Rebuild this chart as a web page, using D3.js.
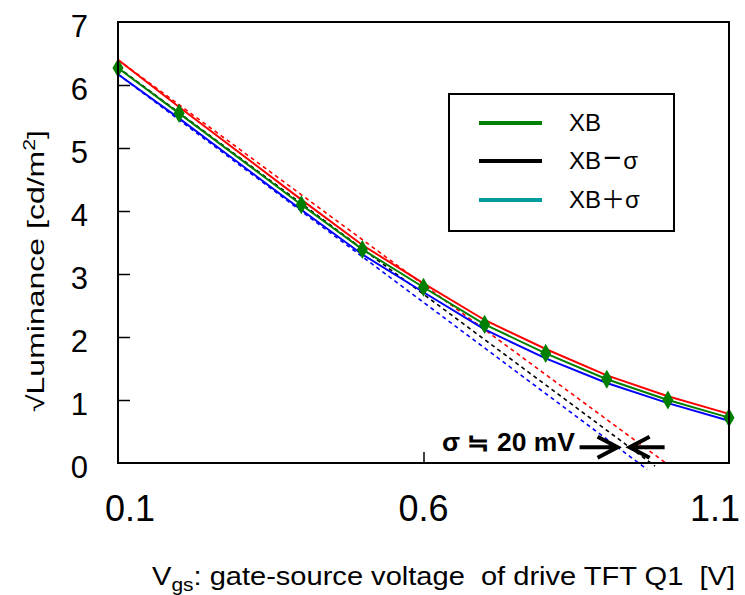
<!DOCTYPE html>
<html>
<head>
<meta charset="utf-8">
<script src="https://cdn.jsdelivr.net/npm/d3@7"></script>
<style>
  html, body { margin: 0; padding: 0; background: #fff; }
  svg { display: block; font-family: "Liberation Sans", Arial, sans-serif; }
  text { white-space: pre; }
</style>
</head>
<body>
<svg id="chart" width="745" height="595"></svg>
<script>
// Gate-source voltage sample points [V]
const vgs = [0.1, 0.2, 0.4, 0.5, 0.6, 0.7, 0.8, 0.9, 1.0, 1.1];
// sqrt(luminance) [sqrt(cd/m2)] for the mean characteristic and its ±σ neighbours
const lumXB   = [6.27, 5.55, 4.10, 3.39, 2.79, 2.20, 1.74, 1.33, 1.00, 0.72];
const lumHigh = [6.40, 5.65, 4.18, 3.46, 2.85, 2.27, 1.81, 1.39, 1.06, 0.78];
const lumLow  = [6.17, 5.47, 4.02, 3.31, 2.71, 2.12, 1.66, 1.27, 0.95, 0.67];

// Straight-line extrapolations of the steep part (start / end points)
const tanHighV = [0.1, 0.998], tanHighL = [6.40, -0.01];
const tanMidV  = [0.1, 0.979], tanMidL  = [6.28, -0.05];
const tanLowV  = [0.1, 0.966], tanLowL  = [6.17, -0.10];

// Axis ticks
const xTicks = [0.1, 0.6, 1.1];
const yTicks = [0, 1, 2, 3, 4, 5, 6, 7];

// Legend entries: base name, operator, suffix
const legendBase = ["XB", "XB", "XB"];
const legendOp = ["", "−", "＋"];
const legendSuffix = ["", "σ", "σ"];
const legendColors = ["#008000", "#000000", "#009c9c"];

// Spread annotation
const sigmaLabel = "σ ≒ 20 mV";
const arrowLevel = 0.25;

const svg = d3.select("#chart");
const x = d3.scaleLinear().domain([0.1, 1.1]).range([118, 729]);
const y = d3.scaleLinear().domain([0, 7]).range([463, 22]);

// Inward tick marks
const yAxis = d3.axisRight(y).tickValues(yTicks.slice(1, 7)).tickSize(12).tickFormat("");
svg.append("g").attr("transform", `translate(${x(0.1)},0)`).call(yAxis)
  .call(g => g.select(".domain").remove())
  .call(g => g.selectAll("line").attr("stroke", "#000").attr("stroke-width", 1.5));
const xAxis = d3.axisTop(x).tickValues([0.6]).tickSize(11).tickFormat("");
svg.append("g").attr("transform", `translate(0,${y(0)})`).call(xAxis)
  .call(g => g.select(".domain").remove())
  .call(g => g.selectAll("line").attr("stroke", "#000").attr("stroke-width", 1.5));

// Tick labels
svg.append("g").selectAll("text").data(yTicks).join("text")
  .attr("x", 88).attr("y", d => y(d) + 15)
  .attr("text-anchor", "end").attr("font-size", 31).attr("fill", "#000")
  .text(d => d);
svg.append("g").selectAll("text").data(xTicks).join("text")
  .attr("x", (d, i) => x(d) + (i === 0 ? -13 : i === xTicks.length - 1 ? 11 : 0))
  .attr("y", 521)
  .attr("text-anchor", (d, i) => i === 0 ? "start" : i === xTicks.length - 1 ? "end" : "middle")
  .attr("font-size", 36).attr("fill", "#000")
  .text(d => d3.format(".1f")(d));

// Extrapolated straight lines
const line = d3.line().x(d => x(d[0])).y(d => y(d[1]));
const tangents = [
  { v: tanHighV, l: tanHighL, c: "#ff0000" },
  { v: tanMidV,  l: tanMidL,  c: "#000000" },
  { v: tanLowV,  l: tanLowL,  c: "#0000ff" }
];
svg.append("g").selectAll("path").data(tangents).join("path")
  .attr("d", d => line(d.v.map((v, i) => [v, d.l[i]])))
  .attr("fill", "none").attr("stroke", d => d.c)
  .attr("stroke-width", 1.6).attr("stroke-dasharray", "4,3.5");

// Measured characteristics
const curves = [
  { l: lumHigh, c: "#ff0000" },
  { l: lumLow,  c: "#0000ff" },
  { l: lumXB,   c: "#008000" }
];
svg.append("g").selectAll("path").data(curves).join("path")
  .attr("d", d => line(vgs.map((v, i) => [v, d.l[i]])))
  .attr("fill", "none").attr("stroke", d => d.c).attr("stroke-width", 2);

// Markers on the mean curve
svg.append("g").selectAll("path").data(vgs.map((v, i) => [v, lumXB[i]])).join("path")
  .attr("transform", d => `translate(${x(d[0])},${y(d[1])})`)
  .attr("d", d3.symbol(d3.symbolDiamond, 105))
  .attr("fill", "#008000");

// Plot frame
svg.append("rect")
  .attr("x", x(0.1)).attr("y", y(7))
  .attr("width", x(1.1) - x(0.1)).attr("height", y(0) - y(7))
  .attr("fill", "none").attr("stroke", "#000").attr("stroke-width", 2);

// Spread annotation with facing arrows
const vAt = (vs, ls, lv) => vs[0] + (ls[0] - lv) * (vs[1] - vs[0]) / (ls[0] - ls[1]);
const tipL = x(vAt(tanLowV, tanLowL, arrowLevel));
const tipR = x(vAt(tanMidV, tanMidL, arrowLevel));
const ay = y(arrowLevel);
const ann = svg.append("g").attr("stroke", "#000").attr("stroke-width", 4)
  .attr("fill", "none").attr("stroke-linecap", "butt");
ann.append("path").attr("d", `M${tipL - 38},${ay}H${tipL}M${tipL - 20},${ay - 10.5}L${tipL},${ay}L${tipL - 20},${ay + 10.5}`);
ann.append("path").attr("d", `M${tipR + 35},${ay}H${tipR}M${tipR + 20},${ay - 10.5}L${tipR},${ay}L${tipR + 20},${ay + 10.5}`);
svg.append("text").attr("x", 442).attr("y", 451)
  .attr("font-size", 25).attr("font-weight", "bold").attr("fill", "#000")
  .attr("textLength", 133).attr("lengthAdjust", "spacingAndGlyphs")
  .text(sigmaLabel);

// Legend
const lg = svg.append("g");
lg.append("rect").attr("x", 449).attr("y", 94).attr("width", 225).attr("height", 137)
  .attr("fill", "#fff").attr("stroke", "#000").attr("stroke-width", 2);
const rowY = [123, 161, 200];
lg.selectAll("line").data(legendBase).join("line")
  .attr("x1", 479).attr("x2", 542)
  .attr("y1", (d, i) => rowY[i]).attr("y2", (d, i) => rowY[i])
  .attr("stroke", (d, i) => legendColors[i]).attr("stroke-width", 4);
const lt = lg.selectAll("text").data(legendBase).join("text")
  .attr("x", 569).attr("y", (d, i) => rowY[i] + 8)
  .attr("font-size", 24).attr("fill", "#000");
lt.append("tspan").text(d => d);
// Wide operator glyphs: a stretched minus sign, a full-width plus sign
lt.append("tspan")
  .attr("font-family", (d, i) => i === 2 ? "'Noto Sans CJK JP'" : null)
  .attr("font-size", (d, i) => i === 1 ? 31 : null)
  .attr("dx", (d, i) => i === 1 ? 2 : 0)
  .attr("dy", (d, i) => i === 1 ? -1 : 0)
  .text((d, i) => legendOp[i]);
lt.append("tspan")
  .attr("dx", (d, i) => i === 1 ? 2 : 0)
  .attr("dy", (d, i) => i === 1 ? 1 : 0)
  .text((d, i) => legendSuffix[i]);

// Axis titles
const xt = svg.append("text").attr("x", 152).attr("y", 585)
  .attr("font-size", 25).attr("fill", "#000")
  .attr("textLength", 583).attr("lengthAdjust", "spacingAndGlyphs");
xt.append("tspan").text("V");
xt.append("tspan").attr("font-size", 18).attr("dy", 6).text("gs");
xt.append("tspan").attr("dy", -6).text(": gate-source voltage  of drive TFT Q1  [V]");

const yt = svg.append("text")
  .attr("transform", "translate(44,412) rotate(-90)")
  .attr("font-size", 24).attr("fill", "#000")
  .attr("textLength", 282).attr("lengthAdjust", "spacingAndGlyphs");
yt.append("tspan").text("√Luminance [cd/m");
yt.append("tspan").attr("font-size", 16).attr("dy", -9).text("2");
yt.append("tspan").attr("dy", 9).text("]");
</script>
</body>
</html>
